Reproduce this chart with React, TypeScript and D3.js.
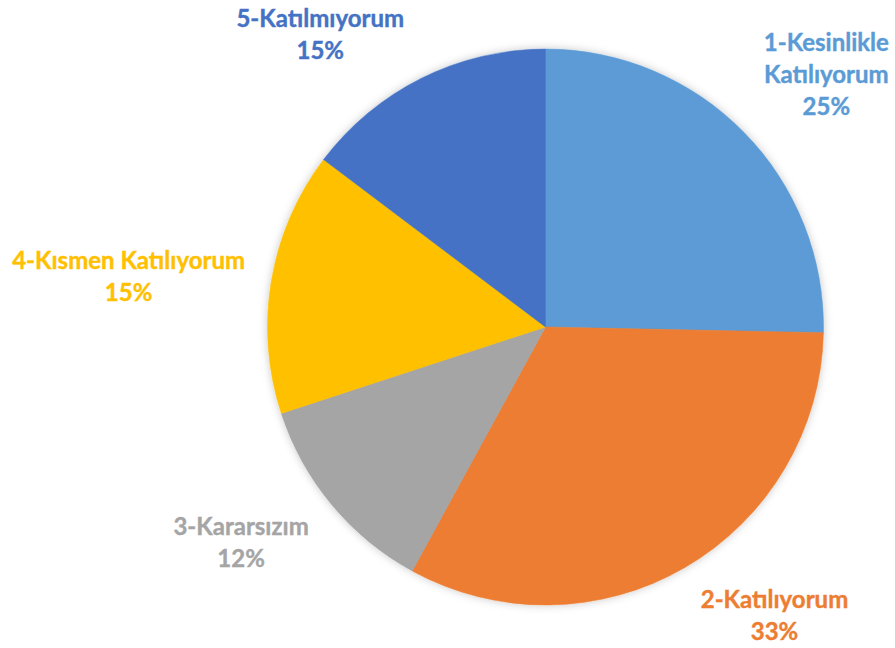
import React from "react";
import * as d3 from "d3";

const categories = ["1-Kesinlikle Katılıyorum", "2-Katılıyorum", "3-Kararsızım", "4-Kısmen Katılıyorum", "5-Katılmıyorum"];
const labelLines = [["1-Kesinlikle", "Katılıyorum"], ["2-Katılıyorum"], ["3-Kararsızım"], ["4-Kısmen Katılıyorum"], ["5-Katılmıyorum"]];
const values = [25.3, 32.6, 12.0, 15.3, 14.7];
const colors = ["#5B9BD5", "#ED7D31", "#A5A5A5", "#FFC000", "#4472C4"];

const W = 895, H = 648;
const cx = 545.5, cy = 327, R = 278;
const labelR = 375;
const nudges: [number, number][] = [[13, 10], [41, -36], [-16, -24], [-47, 11], [-58, 43]];
const lineH = 32;

export default function App() {
  const total = d3.sum(values);
  const pie = d3.pie<number>().sort(null).value((d) => d)(values);
  const arc = d3.arc<d3.PieArcDatum<number>>().innerRadius(0).outerRadius(R);
  return (
    <svg width={W} height={H} style={{ position: "absolute", left: 0, top: 0, background: "#fff" }}>
      <defs>
        <filter id="sh" x="-20%" y="-20%" width="140%" height="140%">
          <feDropShadow dx="0" dy="0" stdDeviation="4" floodColor="#000" floodOpacity="0.22" />
        </filter>
      </defs>
      <g transform={`translate(${cx},${cy})`}>
        <g filter="url(#sh)">
          {pie.map((p, i) => (
            <path key={i} d={arc(p) || ""} fill={colors[i]} stroke={colors[i]} strokeWidth={0.5} />
          ))}
        </g>
      </g>
      {pie.map((p, i) => {
        const mid = (p.startAngle + p.endAngle) / 2;
        const x = cx + labelR * Math.sin(mid) + nudges[i][0];
        const y = cy - labelR * Math.cos(mid) + nudges[i][1];
        const lines = [...labelLines[i], `${Math.round((values[i] / total) * 100)}%`];
        const y0 = y - ((lines.length - 1) * lineH) / 2;
        return (
          <text key={i} textAnchor="middle" fill={colors[i]} fontFamily="Lato, 'Open Sans', sans-serif" fontWeight={700} fontSize={24} stroke={colors[i]} strokeWidth={0.4}>
            {lines.map((l, j) => (
              <tspan key={j} x={x} y={y0 + j * lineH} dy="0.35em">{l}</tspan>
            ))}
          </text>
        );
      })}
    </svg>
  );
}
